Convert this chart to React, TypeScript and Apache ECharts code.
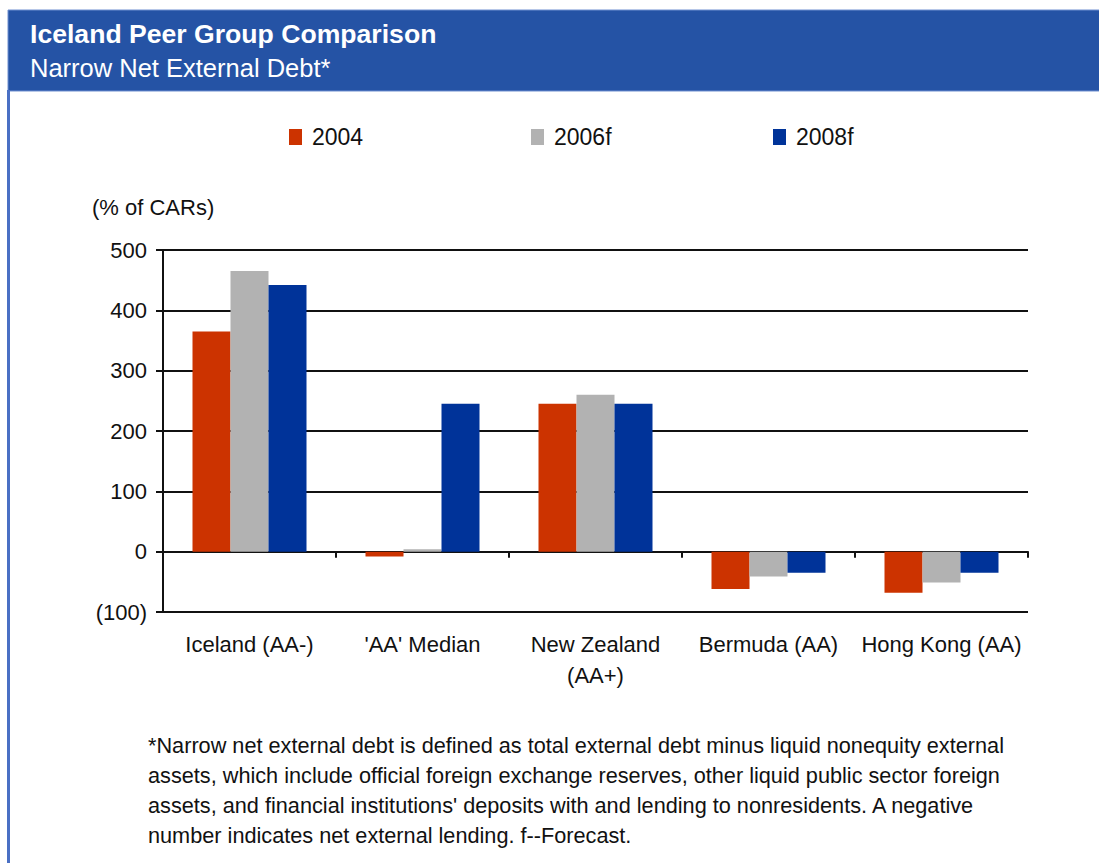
import React, { useEffect, useRef } from "react";
import * as echarts from "echarts";

const categories = ["Iceland (AA-)", "'AA' Median", "New Zealand\n(AA+)", "Bermuda (AA)", "Hong Kong (AA)"];
const seriesNames = ["2004", "2006f", "2008f"];
const values2004 = [365, -8, 245, -62, -68];
const values2006f = [465, 4, 260, -41, -51];
const values2008f = [442, 245, 245, -35, -35];
const seriesColors = ["#CC3300", "#B2B2B2", "#003399"];
const yTicks = { min: -100, max: 500, interval: 100 };

const titleText = "Iceland Peer Group Comparison";
const subtitleText = "Narrow Net External Debt*";
const yAxisTitle = "(% of CARs)";
const footnote =
  "*Narrow net external debt is defined as total external debt minus liquid nonequity external\n" +
  "assets, which include official foreign exchange reserves, other liquid public sector foreign\n" +
  "assets, and financial institutions' deposits with and lending to nonresidents. A negative\n" +
  "number indicates net external lending. f--Forecast.";

const FONT = "'Liberation Sans', Arial, sans-serif";

export default function App() {
  const ref = useRef<HTMLDivElement>(null);
  useEffect(() => {
    if (!ref.current) return;
    const chart = echarts.init(ref.current, null, { renderer: "svg" });
    const seriesData = [values2004, values2006f, values2008f];
    const legendLefts = [289, 531, 773];
    chart.setOption({
      animation: false,
      backgroundColor: "#ffffff",
      textStyle: { fontFamily: FONT },
      grid: { left: 163, right: 71, top: 250, bottom: 251, containLabel: false },
      legend: seriesNames.map((n, i) => ({
        data: [n],
        left: legendLefts[i],
        top: 125,
        padding: 0,
        itemWidth: 13,
        itemHeight: 16,
        icon: "rect",
        selectedMode: false,
        textStyle: { fontFamily: FONT, fontSize: 23, color: "#111", lineHeight: 24, padding: [0, 0, 0, 5] },
      })),
      xAxis: [
        {
          type: "category",
          data: categories,
          axisLine: { show: true, onZero: true, lineStyle: { color: "#111", width: 2 } },
          axisTick: { show: true, length: 6, inside: false, lineStyle: { color: "#111", width: 2 } },
          axisLabel: { show: false },
        },
        {
          type: "category",
          data: categories,
          position: "bottom",
          axisLine: { show: false, onZero: false },
          axisTick: { show: false },
          axisLabel: {
            show: true,
            margin: 17,
            fontFamily: FONT,
            fontSize: 22,
            color: "#111",
            lineHeight: 31,
            interval: 0,
          },
        },
      ],
      yAxis: {
        type: "value",
        min: yTicks.min,
        max: yTicks.max,
        interval: yTicks.interval,
        axisLine: { show: true, lineStyle: { color: "#111", width: 2 } },
        axisTick: { show: true, length: 7, lineStyle: { color: "#111", width: 2 } },
        axisLabel: {
          margin: 16,
          fontFamily: FONT,
          fontSize: 22,
          color: "#111",
          formatter: (v: number) => (v < 0 ? `(${-v})` : `${v}`),
        },
        splitLine: { show: true, lineStyle: { color: "#111", width: 2 } },
      },
      series: seriesNames.map((n, i) => ({
        name: n,
        type: "bar",
        xAxisIndex: 0,
        data: seriesData[i],
        barWidth: 38,
        barGap: "0%",
        itemStyle: { color: seriesColors[i] },
      })),
      graphic: [
        {
          type: "rect",
          shape: { x: 8, y: 10, width: 1100, height: 81 },
          style: { fill: "#2553A5", stroke: "#6f8fd0", lineWidth: 1 },
          silent: true,
        },
        {
          type: "rect",
          shape: { x: 7, y: 90, width: 3, height: 780 },
          style: { fill: "#4A70C4" },
          silent: true,
        },
        {
          type: "text",
          x: 30,
          y: 34,
          style: { text: titleText, fill: "#ffffff", font: `bold 26.6px ${FONT}`, textVerticalAlign: "middle" },
        },
        {
          type: "text",
          x: 30,
          y: 68,
          style: { text: subtitleText, fill: "#ffffff", font: `25.5px ${FONT}`, textVerticalAlign: "middle" },
        },
        {
          type: "text",
          x: 92,
          y: 207,
          style: { text: yAxisTitle, fill: "#111", font: `22px ${FONT}`, textVerticalAlign: "middle" },
        },
        {
          type: "text",
          x: 148,
          y: 730,
          style: { text: footnote, fill: "#111", font: `21.7px ${FONT}`, lineHeight: 30 },
        },
      ],
    });
    return () => chart.dispose();
  }, []);
  return (
    <div
      ref={ref}
      style={{ position: "absolute", left: 0, top: 0, width: 1099, height: 863 }}
    />
  );
}
